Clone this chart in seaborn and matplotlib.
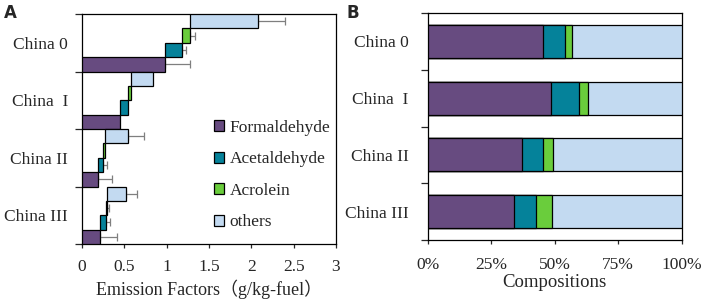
import matplotlib
matplotlib.use("Agg")
import matplotlib.pyplot as plt
from matplotlib.patches import Patch
from matplotlib.ticker import FixedLocator, FuncFormatter
import numpy as np
import pandas as pd
import seaborn as sns

# ---- data -------------------------------------------------------------
stages = ["China 0", "China  I", "China II", "China III"]
species = ["Formaldehyde", "Acetaldehyde", "Acrolein", "others"]

# emission factors, g/kg-fuel
formaldehyde_ef = [0.98, 0.45, 0.19, 0.21]
acetaldehyde_ef = [0.20, 0.09, 0.06, 0.07]
acrolein_ef = [0.09, 0.035, 0.02, 0.02]
others_ef = [0.81, 0.26, 0.27, 0.22]

# upper error bars (0 = none drawn)
formaldehyde_err = [0.29, 0, 0.17, 0.20]
acetaldehyde_err = [0.05, 0, 0.04, 0.05]
acrolein_err = [0.07, 0, 0, 0.02]
others_err = [0.32, 0, 0.19, 0.13]

# compositions, %
formaldehyde_pct = [45.3, 48.5, 36.9, 33.9]
acetaldehyde_pct = [8.6, 10.9, 8.6, 8.9]
acrolein_pct = [3.1, 3.7, 4.0, 6.3]
others_pct = [43.0, 36.9, 50.5, 50.9]

palette = ["#674b80", "#05829a", "#6acd3c", "#c3daf1"]

# ---- style ------------------------------------------------------------
sns.set_theme(style="ticks")
plt.rcParams["font.family"] = ["Liberation Serif", "Noto Sans CJK SC"]
plt.rcParams["axes.linewidth"] = 0.9
plt.rcParams["axes.edgecolor"] = "black"

fig = plt.figure(figsize=(7.06, 3.0), dpi=100)
axA = fig.add_axes([82 / 706, 1 - 244 / 300, 254 / 706, 230 / 300])
axB = fig.add_axes([428 / 706, 1 - 240 / 300, 253.5 / 706, 227 / 300])

# ---- panel A: staircase of emission factors --------------------------
ef = [formaldehyde_ef, acetaldehyde_ef, acrolein_ef, others_ef]
errs = [formaldehyde_err, acetaldehyde_err, acrolein_err, others_err]
offsets = [0.375, 0.125, -0.125, -0.375]

start = np.zeros(len(stages))
for vals, err, off, col in zip(ef, errs, offsets, palette):
    vals = np.array(vals)
    ypos = np.arange(len(stages)) + off
    axA.barh(ypos, vals, left=start, height=0.25, color=col,
             edgecolor="black", linewidth=0.9, zorder=3)
    end = start + vals
    err = np.array(err)
    m = err > 0
    axA.errorbar(end[m], ypos[m], xerr=[np.zeros(m.sum()), err[m]],
                 fmt="none", ecolor="#7f7f7f", elinewidth=0.9,
                 capsize=3, capthick=0.9, zorder=2)
    start = end

axA.set_xlim(0, 3)
axA.set_xticks(np.arange(0, 3.01, 0.5))
axA.xaxis.set_major_formatter(FuncFormatter(lambda v, p: f"{v:g}"))
axA.set_xlabel("Emission Factors（g/kg-fuel）", fontsize=13, labelpad=3)

# ---- panel B: 100% stacked compositions ------------------------------
comp = pd.DataFrame({
    "stage": stages,
    "Formaldehyde": formaldehyde_pct,
    "Acetaldehyde": acetaldehyde_pct,
    "Acrolein": acrolein_pct,
    "others": others_pct,
})
cum = comp[species].cumsum(axis=1)
for sp, col in reversed(list(zip(species, palette))):
    sns.barplot(x=cum[sp], y=comp["stage"], order=stages, orient="h",
                color=col, edgecolor="black", linewidth=0.9, width=0.58,
                errorbar=None, saturation=1, ax=axB, zorder=3)

axB.set_xlim(0, 100)
axB.set_xticks([0, 25, 50, 75, 100])
axB.xaxis.set_major_formatter(FuncFormatter(lambda v, p: f"{v:.0f}%"))
axB.set_xlabel("Compositions", fontsize=13.5, labelpad=1)
axB.set_ylabel("")

# ---- shared axis cosmetics -------------------------------------------
for ax, ypad, xpad in ((axA, 10, 8), (axB, 14, 9)):
    ax.set_ylim(3.5, -0.5)
    ax.set_yticks(range(len(stages)))
    ax.set_yticklabels(stages, fontsize=12.5)
    ax.yaxis.set_minor_locator(FixedLocator(np.arange(-0.5, 3.6, 1)))
    ax.tick_params(axis="y", which="major", length=0, pad=ypad)
    ax.tick_params(axis="y", which="minor", length=5, width=0.9, direction="out")
    ax.tick_params(axis="x", length=3, width=0.9, labelsize=12.5, pad=xpad)
    for s in ax.spines.values():
        s.set_visible(True)
        s.set_color("black")
        s.set_linewidth(0.9)
    ax.grid(False)

handles = [Patch(facecolor=c, edgecolor="black", linewidth=0.9) for c in palette]
axA.legend(handles, species, loc="center left", bbox_to_anchor=(0.52, 0.30),
           frameon=False, fontsize=12.5, handlelength=0.6, handleheight=0.6,
           handletextpad=0.3, labelspacing=0.9, borderpad=0, borderaxespad=0)

fig.text(4 / 706, 1 - 18 / 300, "A", fontsize=12, fontweight="bold",
         family="DejaVu Sans")
fig.text(346 / 706, 1 - 18 / 300, "B", fontsize=12, fontweight="bold",
         family="DejaVu Sans")

fig.savefig("out.png", dpi=100)
